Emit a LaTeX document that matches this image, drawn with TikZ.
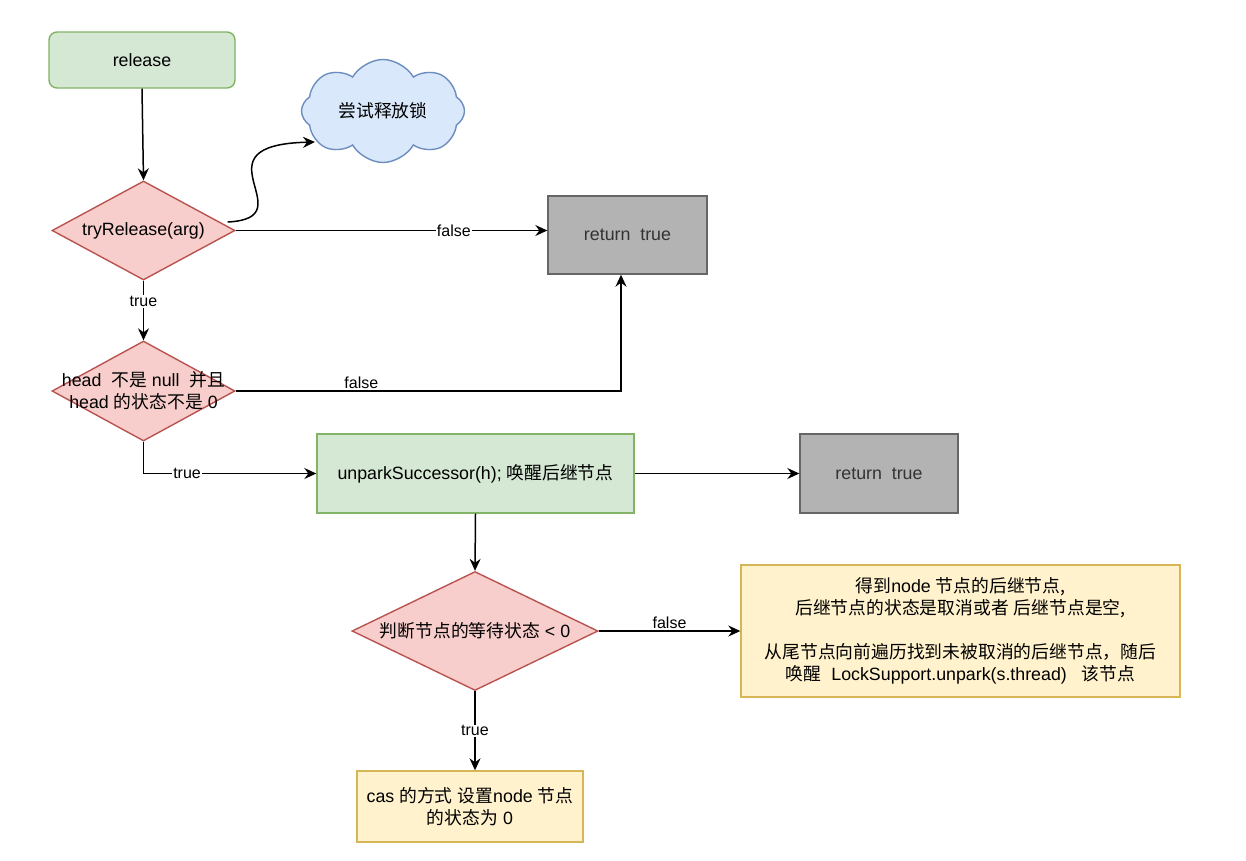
\documentclass[tikz,border=0pt]{standalone}
\usepackage{fontspec}
\setmainfont{Liberation Sans}
\newfontfamily\cjk{Noto Sans CJK SC}
\usetikzlibrary{shapes.geometric,shapes.symbols,arrows.meta,calc}
\newcommand\zh[1]{{\cjk #1}}
\definecolor{gfill}{HTML}{D5E8D4}
\definecolor{gline}{HTML}{82B366}
\definecolor{rfill}{HTML}{F8CECC}
\definecolor{rline}{HTML}{B85450}
\definecolor{bfill}{HTML}{DAE8FC}
\definecolor{bline}{HTML}{6C8EBF}
\definecolor{yfill}{HTML}{FFF2CC}
\definecolor{yline}{HTML}{D6B656}
\definecolor{kfill}{HTML}{B3B3B3}
\definecolor{kline}{HTML}{666666}
\definecolor{ktext}{HTML}{333333}
\begin{document}
\begin{tikzpicture}[x=1pt,y=-1pt,
  every node/.style={font=\fontsize{17.8}{22}\selectfont},
  greenbox/.style={draw=gline, fill=gfill, line width=1.4pt},
  graybox/.style={draw=kline, fill=kfill, line width=1.4pt, text=ktext},
  yellowbox/.style={draw=yline, fill=yfill, line width=1.4pt, align=center},
  dia/.style={diamond, draw=rline, fill=rfill, line width=1.4pt, inner sep=0pt},
  dtext/.style={align=center, inner sep=0pt},
  cloudn/.style={cloud, cloud puffs=8, cloud puff arc=120, aspect=1.6, inner sep=0pt, draw=bline, fill=bfill, line width=1.4pt, minimum width=163, minimum height=103},
  arr/.style={line width=1.5pt, -{Stealth[length=12pt,width=11pt,inset=4pt]}},
  lab/.style={fill=white, inner sep=1pt, font=\fontsize{16}{19}\selectfont},
  labt/.style={inner sep=2pt, font=\fontsize{16}{19}\selectfont}]
\useasboundingbox (0,0) rectangle (1246,860);
\fill[white] (0,0) rectangle (1246,860);

\node[greenbox, rounded corners=8pt, minimum width=186, minimum height=56] (rel) at (142,60) {release};
\node[cloudn] (cloud) at (383,111) {\zh{尝试释放锁}};
\node[dia, minimum width=183, minimum height=99, label={[dtext]center:tryRelease(arg)}] (tr) at (143.5,230.5) {};
\node[graybox, minimum width=159, minimum height=78] (r1) at (627.5,235) {return\ \ true};
\node[dia, minimum width=183, minimum height=100, label={[dtext]center:head\ \ \zh{不是} null\ \ \zh{并且}\\head \zh{的状态不是} 0}] (hd) at (143.5,391) {};
\node[greenbox, minimum width=317, minimum height=79] (up) at (475.5,473.5) {unparkSuccessor(h); \zh{唤醒后继节点}};
\node[graybox, minimum width=158, minimum height=79] (r2) at (879,473.5) {return\ \ true};
\node[dia, minimum width=246, minimum height=119, label={[dtext]center:\zh{判断节点的等待状态} < 0}] (d3) at (475,631) {};
\node[yellowbox, minimum width=439, minimum height=132] (nt) at (960.5,631)
  {\zh{得到}node \zh{节点的后继节点,}\\
   \zh{后继节点的状态是取消或者} \zh{后继节点是空,}\\[22pt]
   \zh{从尾节点向前遍历找到未被取消的后继节点，随后}\\
   \zh{唤醒}\ \ LockSupport.unpark(s.thread)\ \ \ \zh{该节点}};
\node[yellowbox, minimum width=226, minimum height=71] (cas) at (470,806.5)
  {cas \zh{的方式} \zh{设置}node \zh{节点}\\\zh{的状态为} 0};

\draw[arr] (rel.south) -- (tr.north);
\draw[arr] ([shift={(-8,-8.5)}]tr.east) .. controls +(80,-4) and +(-125,3) .. ([shift={(-68,31)}]cloud.center);
\draw[arr] (tr.east) -- (r1.west |- tr.east) node[lab, pos=0.7] {false};
\draw[arr] (tr.south) -- (hd.north) node[lab, pos=0.35] {true};
\draw[arr] (hd.east) -| ([xshift=-6.5pt]r1.south) node[labt, pos=0.163, above] {false};
\draw[arr] (hd.south) |- (up.west) node[lab, pos=0.626] {true};
\draw[arr] (up.east) -- (r2.west);
\draw[arr] (up.south) -- (d3.north);
\draw[arr] (d3.east) -- (nt.west) node[labt, midway, above] {false};
\draw[arr] (d3.south) -- (d3.south |- cas.north) node[lab, midway] {true};
\end{tikzpicture}
\end{document}
